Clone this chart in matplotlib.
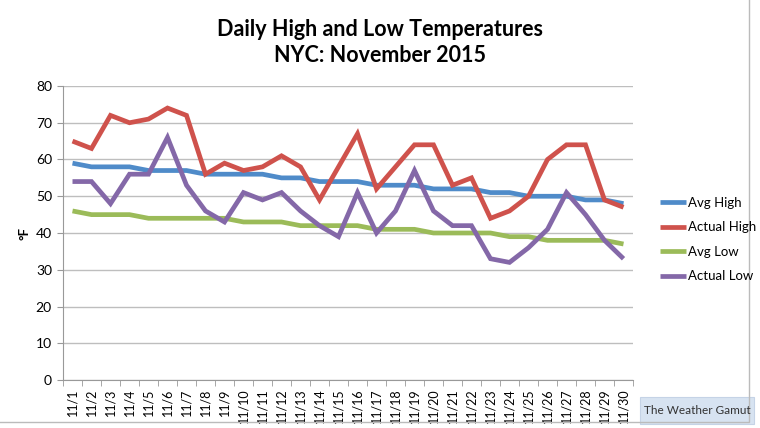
import numpy as np
import matplotlib
matplotlib.use("Agg")
import matplotlib.pyplot as plt
from matplotlib.patches import Rectangle

plt.rcParams['font.family'] = ['Lato', 'DejaVu Sans']

# Data
days = ["11/%d" % d for d in range(1, 31)]
avg_high = [59, 58, 58, 58, 57, 57, 57, 56, 56, 56, 56, 55, 55, 54, 54,
            54, 53, 53, 53, 52, 52, 52, 51, 51, 50, 50, 50, 49, 49, 48]
actual_high = [65, 63, 72, 70, 71, 74, 72, 56, 59, 57, 58, 61, 58, 49, 58,
               67, 52, 58, 64, 64, 53, 55, 44, 46, 50, 60, 64, 64, 49, 47]
avg_low = [46, 45, 45, 45, 44, 44, 44, 44, 44, 43, 43, 43, 42, 42, 42,
           42, 41, 41, 41, 40, 40, 40, 40, 39, 39, 38, 38, 38, 38, 37]
actual_low = [54, 54, 48, 56, 56, 66, 53, 46, 43, 51, 49, 51, 46, 42, 39,
              51, 40, 46, 57, 46, 42, 42, 33, 32, 36, 41, 51, 45, 38, 33]

series = [
    ("Avg High", avg_high, "#4F8BC9"),
    ("Actual High", actual_high, "#CF524C"),
    ("Avg Low", avg_low, "#9BBB59"),
    ("Actual Low", actual_low, "#8468A8"),
]

fig = plt.figure(figsize=(7.6, 4.28), dpi=100)
ax = fig.add_axes([63/760, 1 - 380/428, 570/760, 294/428])

x = np.arange(len(days))
for name, vals, col in series:
    ax.plot(x, vals, color=col, lw=3.4, label=name, solid_joinstyle='miter',
            solid_capstyle='butt')

ax.set_xlim(-0.5, 29.5)
ax.set_ylim(0, 80)
ax.set_yticks(range(0, 81, 10))
ax.set_xticks(x)
ax.set_xticklabels(days, rotation=90, fontsize=9)
ax.set_xticks(np.arange(-0.5, 30, 1), minor=True)
ax.tick_params(axis='x', which='major', length=0, pad=6)
ax.tick_params(axis='x', which='minor', length=4, color='#999999')
ax.tick_params(axis='y', length=4, color='#999999', labelsize=10, pad=4)
ax.yaxis.grid(True, color='#BEBEBE', lw=1)
ax.set_axisbelow(True)
for s in ['top', 'right']:
    ax.spines[s].set_visible(False)
ax.spines['left'].set_color('#999999')
ax.spines['bottom'].set_color('#999999')
ax.set_ylabel("°F", fontsize=9.5, fontweight='bold', labelpad=4)

fig.text(0.5, 1 - 30/428, "Daily High and Low Temperatures", ha='center', va='center',
         fontsize=15.5, fontweight='bold')
fig.text(0.5, 1 - 56/428, "NYC: November 2015", ha='center', va='center',
         fontsize=15.5, fontweight='bold')

fig.legend(loc='upper left', bbox_to_anchor=(648/760, 1 - 185/428), frameon=False,
           fontsize=9.5, handlelength=2.0, handletextpad=0.15, labelspacing=0.95)

# watermark box
fig.patches.append(Rectangle((640/760, 1 - 424/428), 114/760, 27/428,
                             transform=fig.transFigure, facecolor='#D7E3F1',
                             edgecolor='#C5D3E6', lw=0.8))
fig.text(697/760, 1 - 411/428, "The Weather Gamut", ha='center', va='center',
         fontsize=8.5, color='#333333')

# outer chart border
fig.patches.append(Rectangle((-0.01, 6/428), 757/760, 1.2,
                             transform=fig.transFigure, facecolor='none',
                             edgecolor='#BBBBBB', lw=1))

fig.savefig("out.png", dpi=100)
